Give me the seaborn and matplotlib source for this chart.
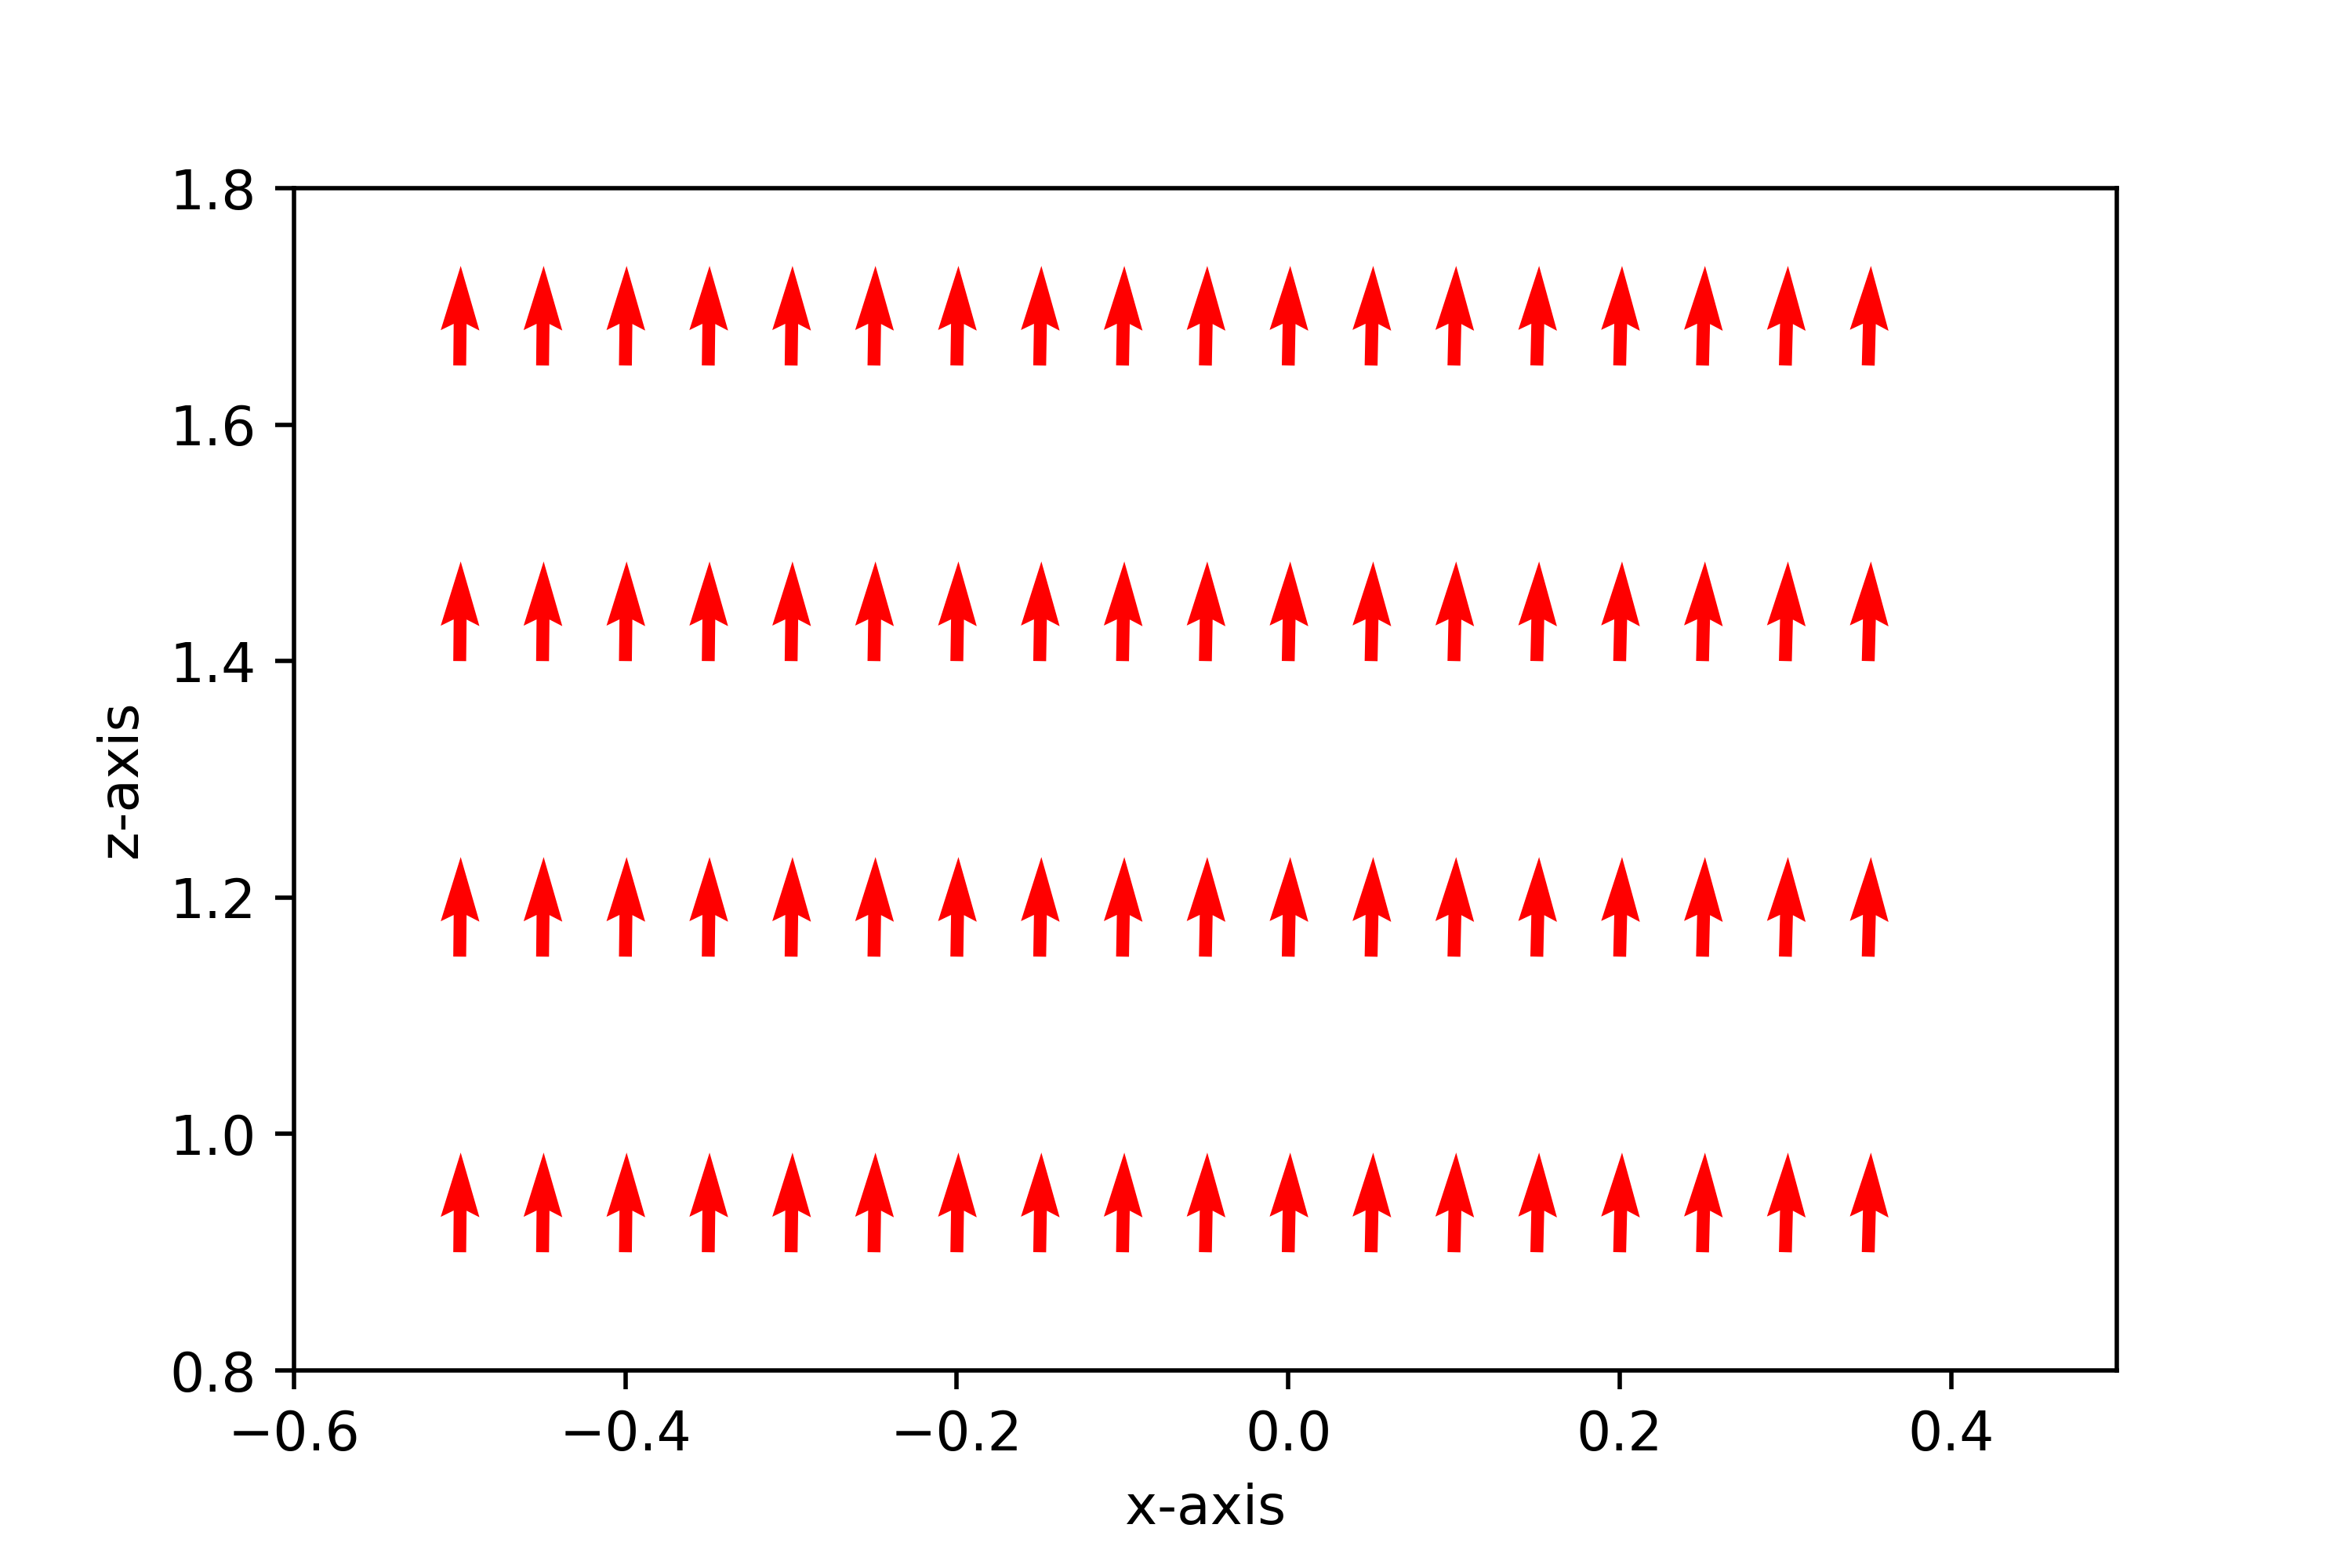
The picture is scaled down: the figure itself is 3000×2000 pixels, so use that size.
import numpy as np
import matplotlib
matplotlib.use("Agg")
import matplotlib.pyplot as plt
import seaborn as sns

# Data
x_positions = [-0.5, -0.45, -0.4, -0.35, -0.3, -0.25, -0.2, -0.15, -0.1, -0.05,
               0.0, 0.05, 0.1, 0.15, 0.2, 0.25, 0.3, 0.35]
z_positions = [0.9, 1.15, 1.4, 1.65]
u_by_column = [0.010, 0.011, 0.012, 0.013, 0.014, 0.015, 0.016, 0.017, 0.018,
               0.019, 0.020, 0.021, 0.022, 0.023, 0.024, 0.025, 0.026, 0.027]
w_value = 1.0
x_ticks = [-0.6, -0.4, -0.2, 0.0, 0.2, 0.4]
z_ticks = [0.8, 1.0, 1.2, 1.4, 1.6, 1.8]

sns.set_theme(style="ticks", rc={
    "axes.labelsize": 10, "xtick.labelsize": 10, "ytick.labelsize": 10,
    "axes.edgecolor": "black", "xtick.color": "black", "ytick.color": "black",
    "axes.labelcolor": "black", "text.color": "black",
    "axes.linewidth": 0.8, "xtick.major.width": 0.8, "ytick.major.width": 0.8,
    "xtick.major.size": 3.5, "ytick.major.size": 3.5,
    "xtick.major.pad": 3.5, "ytick.major.pad": 3.5, "axes.labelpad": 4.0,
})
plt.rcParams['font.family'] = ['DejaVu Sans']

X, Z = np.meshgrid(np.array(x_positions), np.array(z_positions))
U = np.tile(np.array(u_by_column), (len(z_positions), 1))
W = np.full_like(X, w_value)

fig, ax = plt.subplots(figsize=(6, 4), dpi=500)
fig.subplots_adjust(left=0.125, right=0.9, top=0.88, bottom=0.126)
ax.quiver(X, Z, U, W, color="red", scale=18.3)
ax.set_xlim(-0.6, 0.5)
ax.set_ylim(0.8, 1.8)
ax.set_xticks(x_ticks)
ax.set_yticks(z_ticks)
ax.set_xlabel("x-axis")
ax.set_ylabel("z-axis")
for s in ax.spines.values():
    s.set_visible(True)
fig.savefig("out.png", dpi=500)
